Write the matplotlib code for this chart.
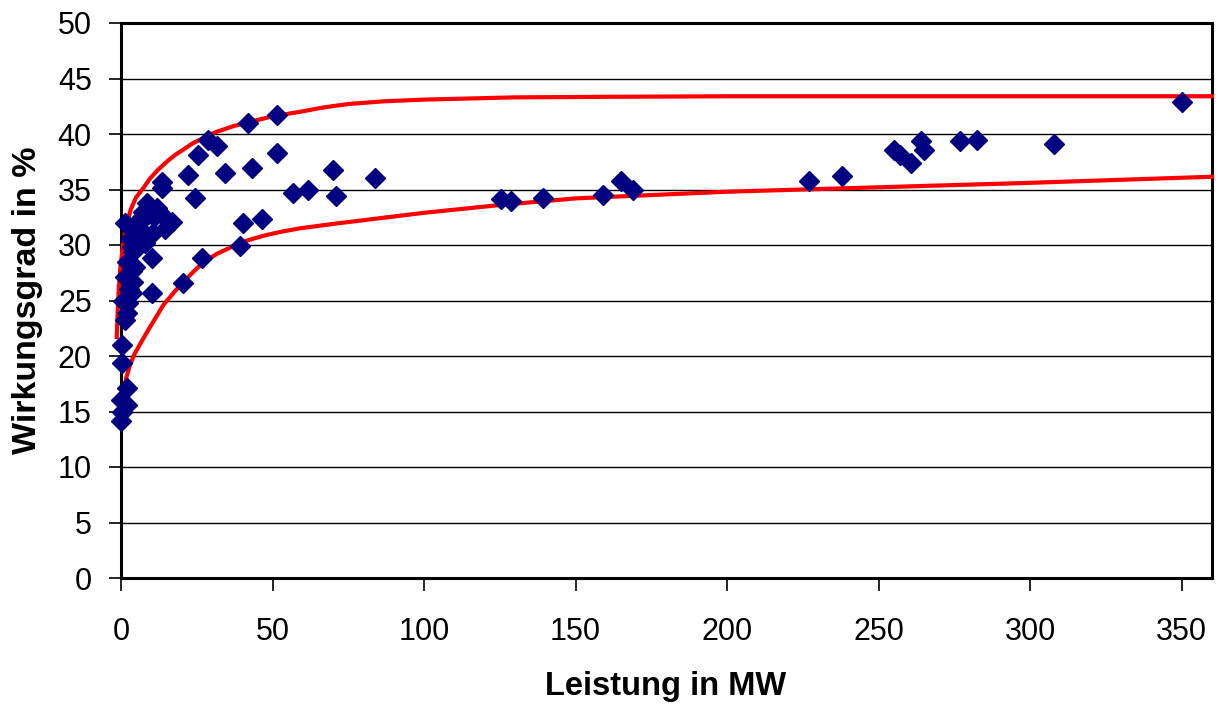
import matplotlib
matplotlib.use("Agg")
import matplotlib.pyplot as plt

plt.rcParams["font.family"] = ["Liberation Sans", "DejaVu Sans"]

# Messpunkte: Leistung in MW / Wirkungsgrad in %
leistung = [0, 0.2, 1.9, 0, 1.9, 0.2, 0.2,
            1.3, 1.9, 2.4, 0.7, 3.5, 4.0, 1.3, 3.5, 10.1, 20.6, 26.6, 10.1,
            4.0, 3.5, 5.2, 7.9, 6.3, 39.3, 10.6, 14.5, 16.7, 1.3, 6.3, 9.0,
            11.8, 9.6, 7.3, 13.4, 24.4, 13.4, 13.4, 22.2, 25.5, 28.8, 31.6,
            34.3, 40.4, 46.5, 43.1, 51.4, 42.0, 51.4, 56.9, 61.8, 69.9, 71.0,
            83.9, 2.0, 3.0, 5.0, 6.0, 8.0, 11.0, 4.5, 2.8, 12.5, 8.5,
            125.5, 128.8, 139.3, 159.1, 165.1, 169.0, 227.1, 238.0, 255.2,
            257.2, 260.8, 264.1, 265.1, 276.7, 282.3, 308.0, 350.0]
wirkungsgrad = [14.1, 15.0, 15.6, 16.0, 17.1, 19.4, 21.0,
                23.2, 23.9, 24.8, 25.0, 25.7, 26.7, 27.1, 27.7, 25.7, 26.6, 28.8, 28.8,
                29.4, 29.8, 30.2, 30.2, 30.8, 29.9, 31.1, 31.4, 32.1, 32.0, 32.3, 32.8,
                33.3, 33.4, 33.0, 32.7, 34.2, 35.1, 35.7, 36.3, 38.1, 39.5, 38.9,
                36.5, 32.0, 32.3, 36.9, 38.3, 41.0, 41.7, 34.7, 35.0, 36.8, 34.4,
                36.0, 28.5, 30.5, 31.5, 32.0, 31.0, 32.5, 28.0, 26.0, 33.0, 33.8,
                34.1, 34.0, 34.2, 34.5, 35.8, 35.0, 35.8, 36.2, 38.6,
                38.1, 37.4, 39.4, 38.6, 39.4, 39.5, 39.1, 42.9]

# obere Grenzkurve
oben_x = [-1.4, -1.1, -0.7, -0.2, 0.5, 1.5, 3.2, 5.0, 7.3, 9.6, 12.3, 15.1,
          17.8, 20.6, 23.3, 26.1, 28.9, 31.6, 37.0, 42.6, 50.2, 59.1, 67, 75,
          87, 100, 115, 130, 160, 200, 250, 300, 360]
oben_y = [21.7, 24.0, 26.2, 28.0, 29.6, 31.4, 33.2, 34.3, 35.1, 36.0, 36.8,
          37.5, 38.1, 38.6, 39.1, 39.5, 39.9, 40.2, 40.7, 41.1, 41.6, 42.0,
          42.4, 42.7, 42.95, 43.1, 43.2, 43.3, 43.35, 43.4, 43.4, 43.4, 43.4]

# untere Grenzkurve
unten_x = [0.0, 0.3, 0.8, 1.7, 3.0, 4.5, 7.4, 10.0, 14.0, 18.0, 23.9, 27.5,
           31.6, 35.5, 39.3, 44, 48, 53, 59, 70, 85, 100, 125, 150, 175, 200,
           250, 300, 360]
unten_y = [13.6, 15.0, 16.5, 18.0, 19.2, 20.2, 21.6, 22.8, 24.6, 25.9, 27.6,
           28.5, 29.2, 29.7, 30.2, 30.6, 30.9, 31.2, 31.5, 31.9, 32.4, 32.9,
           33.6, 34.2, 34.5, 34.8, 35.2, 35.6, 36.15]

fig = plt.figure(figsize=(12.2, 7.06), dpi=100)
ax = fig.add_axes([121 / 1220, (706 - 578) / 706, (1212 - 121) / 1220, (578 - 23) / 706])

ax.set_xlim(0, 360)
ax.set_ylim(0, 50)
ax.set_xticks(range(0, 351, 50))
ax.set_yticks(range(0, 51, 5))
ax.grid(axis="y", color="black", linewidth=1.0)
ax.set_axisbelow(True)

ax.plot(oben_x, oben_y, color="#ff0000", linewidth=3, clip_on=False, zorder=3,
        solid_joinstyle="round")
ax.plot(unten_x, unten_y, color="#ff0000", linewidth=3, clip_on=False, zorder=3,
        solid_joinstyle="round")
ax.plot(leistung, wirkungsgrad, linestyle="none", marker="D", markersize=10,
        color="#000080", clip_on=False, zorder=4)

for s in ax.spines.values():
    s.set_linewidth(2.2)
    s.set_color("black")
ax.tick_params(axis="both", direction="out", length=9, width=1.2,
               labelsize=22, color="black")
ax.tick_params(axis="x", pad=19)
ax.tick_params(axis="y", pad=12)

fig.text(666 / 1220, 1 - 687 / 706, "Leistung in MW", fontsize=23.5,
         fontweight="bold", ha="center", va="center")
fig.text(28 / 1220, 1 - 300 / 706, "Wirkungsgrad in %", fontsize=24.5,
         fontweight="bold", ha="center", va="center", rotation=90)

fig.savefig("out.png", dpi=100)
